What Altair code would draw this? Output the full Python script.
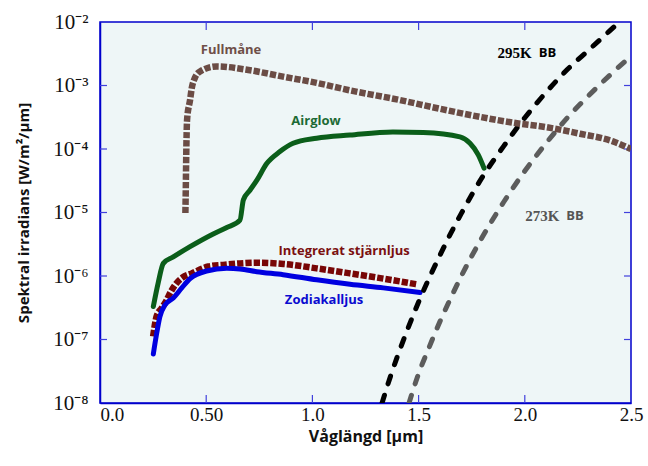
import altair as alt
import pandas as pd

# ---------------- data ----------------
moon_x = [0.402, 0.404, 0.406, 0.410, 0.424, 0.432, 0.447, 0.471, 0.549, 0.706, 0.862,
          1.020, 1.168, 1.412, 1.600, 1.789, 1.944, 2.103, 2.260, 2.415, 2.500]
moon_y = [9.8e-6, 2.5e-5, 7.9e-5, 2.9e-4, 5.9e-4, 9.1e-4, 1.32e-3, 1.66e-3, 2.0e-3, 1.74e-3, 1.38e-3,
          1.10e-3, 8.5e-4, 5.9e-4, 4.3e-4, 3.2e-4, 2.6e-4, 2.2e-4, 1.74e-4, 1.32e-4, 1.0e-4]

airglow_x = [0.251, 0.274, 0.298, 0.345, 0.424, 0.533, 0.597, 0.659, 0.675, 0.706, 0.738,
             0.785, 0.847, 0.909, 1.020, 1.177, 1.379, 1.522, 1.695, 1.742, 1.781, 1.808]
airglow_y = [3.3e-7, 7.8e-7, 1.58e-6, 2.0e-6, 2.9e-6, 4.6e-6, 5.8e-6, 7.6e-6, 1.58e-5, 2.24e-5, 3.2e-5,
             5.9e-5, 9.1e-5, 1.23e-4, 1.48e-4, 1.66e-4, 1.86e-4, 1.82e-4, 1.55e-4, 1.23e-4, 8.1e-5, 5.0e-5]

star_x = [0.250, 0.267, 0.290, 0.311, 0.330, 0.353, 0.389, 0.432, 0.510, 0.589, 0.659,
          0.738, 0.863, 1.020, 1.177, 1.334, 1.491]
star_y = [1.12e-7, 2.34e-7, 3.1e-7, 4.0e-7, 5.4e-7, 7.2e-7, 9.5e-7, 1.10e-6, 1.41e-6, 1.51e-6, 1.58e-6,
          1.62e-6, 1.55e-6, 1.32e-6, 1.10e-6, 9.1e-7, 7.4e-7]

zodi_x = [0.251, 0.267, 0.282, 0.306, 0.345, 0.385, 0.424, 0.502, 0.597, 0.659, 0.738,
          0.862, 1.020, 1.177, 1.334, 1.507]
zodi_y = [5.9e-8, 1.26e-7, 2.3e-7, 3.5e-7, 4.5e-7, 6.5e-7, 9.1e-7, 1.20e-6, 1.32e-6, 1.29e-6, 1.17e-6,
          1.05e-6, 8.7e-7, 7.4e-7, 6.5e-7, 5.5e-7]

bb295_x = [1.328, 1.36, 1.40, 1.45, 1.50, 1.55, 1.60, 1.65, 1.70, 1.80, 1.90, 2.00, 2.10, 2.20, 2.30, 2.43]
bb295_y = [1.0e-8, 2.2e-8, 5.4e-8, 1.5e-7, 3.9e-7, 9.3e-7, 2.1e-6, 4.6e-6, 9.5e-6, 3.6e-5, 1.1e-4,
           3.1e-4, 7.8e-4, 1.78e-3, 3.6e-3, 9.0e-3]

bb273_x = [1.455, 1.50, 1.55, 1.60, 1.65, 1.70, 1.80, 1.90, 2.00, 2.10, 2.20, 2.30, 2.40, 2.50]
bb273_y = [1.0e-8, 2.9e-8, 7.6e-8, 1.9e-7, 4.4e-7, 9.8e-7, 4.1e-6, 1.45e-5, 4.5e-5, 1.23e-4,
           3.1e-4, 6.9e-4, 1.45e-3, 2.9e-3]

x_tick_values = [0.0, 0.5, 1.0, 1.5, 2.0, 2.5]
y_tick_values = [1e-2, 1e-3, 1e-4, 1e-5, 1e-6, 1e-7, 1e-8]
x_inner_ticks = [0.5, 1.0, 1.5, 2.0]
y_inner_ticks = [1e-3, 1e-4, 1e-5, 1e-6, 1e-7]

sans_labels = ["Fullmåne", "Airglow", "Integrerat stjärnljus", "Zodiakalljus", "BB", "BB"]
sans_x = [0.617, 1.017, 1.149, 1.055, 2.107, 2.236]
sans_y = [3.63e-3, 2.79e-4, 2.51e-6, 4.17e-7, 3.21e-3, 8.81e-6]
sans_color = ["#6F4F48", "#1D6A35", "#7B1010", "#0A0AD0", "#000000", "#555555"]
serif_labels = ["295K", "273K"]
serif_x = [1.952, 2.083]
serif_y = [3.21e-3, 8.81e-6]
serif_color = ["#000000", "#555555"]

W, H = 531, 381
AXIS_BLUE = "#0000CC"
TICK_BLUE = "#4040DD"

xscale = alt.Scale(domain=[0, 2.5], nice=False, zero=False)
yscale = alt.Scale(type="log", domain=[1e-8, 1e-2], nice=False)

x_axis = alt.Axis(
    values=x_tick_values,
    labelExpr="datum.value == 0.5 ? '0.50' : format(datum.value, '.1f')",
    labelAlign={"condition": {"test": "datum.value == 0", "value": "left"}, "value": "center"},
    ticks=False, tickSize=0, grid=False,
    domainColor=AXIS_BLUE, domainWidth=1.5,
    labelFont="Liberation Serif", labelFontSize=19, labelColor="#111111", labelPadding=2,
    labelFlush=False, labelOverlap=False,
    title="Våglängd [µm]", titleFont="Open Sans", titleFontWeight="bold", titleFontSize=16,
    titleColor="#111111", titleY=33, titleBaseline="middle",
)
y_axis = alt.Axis(
    values=y_tick_values,
    labelExpr="'10⁻' + substring('⁰¹²³⁴⁵⁶⁷⁸⁹', -round(log(datum.value)/LN10), -round(log(datum.value)/LN10) + 1)",
    ticks=False, tickSize=0, grid=False,
    domainColor=AXIS_BLUE, domainWidth=1.5,
    labelFont="Liberation Serif", labelFontSize=21, labelColor="#111111", labelPadding=12,
    labelOverlap=False, labelFlush=False,
    title="Spektral irradians [W/m²/µm]", titleFont="Open Sans", titleFontWeight="bold",
    titleFontSize=15, titleColor="#111111", titleX=-77, titleY=H / 2, titleBaseline="middle",
    titleAngle=-90, titleAlign="center",
)

X = lambda: alt.X("x:Q", scale=xscale, axis=x_axis)
Y = lambda: alt.Y("y:Q", scale=yscale, axis=y_axis)


def series(xs, ys):
    return pd.DataFrame({"x": xs, "y": ys, "i": list(range(len(xs)))})


def line(xs, ys, color, width, dash=None, cap="butt"):
    kw = dict(color=color, strokeWidth=width, strokeCap=cap, clip=True, strokeJoin="round",
              interpolate="monotone")
    if dash:
        kw["strokeDash"] = dash
    return alt.Chart(series(xs, ys)).mark_line(**kw).encode(x=X(), y=Y(), order="i:Q")


star = line(star_x, star_y, "#780606", 6.5, [6.3, 2.0])
zodi = line(zodi_x, zodi_y, "#0000E0", 5, cap="round")
airglow = line(airglow_x, airglow_y, "#0B5E1A", 5, cap="round")
moon = line(moon_x, moon_y, "#6B4C45", 6.5, [6.3, 2.0])
bb273 = line(bb273_x, bb273_y, "#5C5C5C", 5, [8, 12], cap="round")
bb295 = line(bb295_x, bb295_y, "#000000", 5, [8, 12], cap="round")

xt = pd.DataFrame({"x": x_inner_ticks})
yt = pd.DataFrame({"y": y_inner_ticks})
tick_bottom = alt.Chart(xt).mark_rule(color=TICK_BLUE, strokeWidth=1.2).encode(
    x=X(), y=alt.value(H), y2=alt.value(H - 8))
tick_top = alt.Chart(xt).mark_rule(color=TICK_BLUE, strokeWidth=1.2).encode(
    x=X(), y=alt.value(0), y2=alt.value(8))
tick_left = alt.Chart(yt).mark_rule(color=TICK_BLUE, strokeWidth=1.2).encode(
    y=Y(), x=alt.value(0), x2=alt.value(7))
tick_right = alt.Chart(yt).mark_rule(color=TICK_BLUE, strokeWidth=1.2).encode(
    y=Y(), x=alt.value(W), x2=alt.value(W - 7))

sans_df = pd.DataFrame({"label": sans_labels, "x": sans_x, "y": sans_y, "c": sans_color})
serif_df = pd.DataFrame({"label": serif_labels, "x": serif_x, "y": serif_y, "c": serif_color})
sans_text = alt.Chart(sans_df).mark_text(
    font="Open Sans", fontWeight="bold", fontSize=13, align="center", baseline="middle"
).encode(x=X(), y=Y(), text="label:N", color=alt.Color("c:N", scale=None))
serif_text = alt.Chart(serif_df).mark_text(
    font="Liberation Serif", fontWeight="bold", fontSize=15, align="center", baseline="middle"
).encode(x=X(), y=Y(), text="label:N", color=alt.Color("c:N", scale=None))

chart = alt.layer(
    tick_bottom, tick_top, tick_left, tick_right,
    star, zodi, airglow, bb273, bb295, moon,
    sans_text, serif_text,
).properties(
    width=W, height=H,
    padding={"left": 100, "top": 22, "right": 17, "bottom": 63},
    autosize=alt.AutoSizeParams(type="none"),
    background="white",
).configure_view(
    fill="#EEF6F7", stroke=AXIS_BLUE, strokeWidth=1.5
)

chart.save("out.html", embed_options={"renderer": "svg", "actions": False})
